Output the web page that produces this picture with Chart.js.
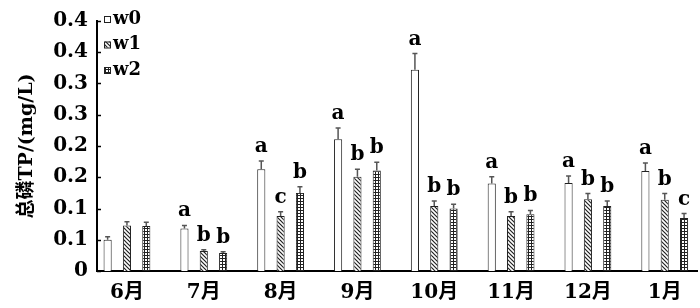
<!DOCTYPE html>
<html>
<head>
<meta charset="utf-8">
<script src="https://cdn.jsdelivr.net/npm/chart.js@4/dist/chart.umd.min.js"></script>
<style>
html,body{margin:0;padding:0;background:#fff;}
#wrap{width:700px;height:308px;position:relative;}
</style>
</head>
<body>
<div id="wrap"><canvas id="c" width="700" height="308"></canvas></div>
<script>
// ---- data ----
const categories = ['6月','7月','8月','9月','10月','11月','12月','1月'];
const seriesNames = ['w0','w1','w2'];
const w0 = [0.050, 0.068, 0.163, 0.211, 0.322, 0.140, 0.141, 0.160];
const w1 = [0.073, 0.032, 0.088, 0.151, 0.104, 0.088, 0.115, 0.114];
const w2 = [0.072, 0.029, 0.125, 0.161, 0.100, 0.091, 0.104, 0.085];
const w0Err = [0.005, 0.005, 0.013, 0.018, 0.026, 0.011, 0.011, 0.013];
const w1Err = [0.006, 0.002, 0.007, 0.012, 0.008, 0.007, 0.009, 0.010];
const w2Err = [0.006, 0.002, 0.010, 0.013, 0.007, 0.006, 0.008, 0.007];
const w0Sig = ['', 'a', 'a', 'a', 'a', 'a', 'a', 'a'];
const w1Sig = ['', 'b', 'c', 'b', 'b', 'b', 'b', 'b'];
const w2Sig = ['', 'b', 'b', 'b', 'b', 'b', 'b', 'c'];
const yTickLabels = ['0','0.1','0.1','0.2','0.2','0.3','0.3','0.4','0.4'];
const yTitle = '总磷TP/(mg/L)';

// ---- patterns ----
function makePattern(kind){
  const p = document.createElement('canvas');
  const ctx = p.getContext('2d');
  if(kind==='hatch'){
    p.width=4;p.height=4;
    ctx.fillStyle='#fff';ctx.fillRect(0,0,4,4);
    ctx.strokeStyle='#222';ctx.lineWidth=1.2;
    ctx.beginPath();ctx.moveTo(-1,-1);ctx.lineTo(5,5);ctx.stroke();
    ctx.beginPath();ctx.moveTo(-1,3);ctx.lineTo(1,5);ctx.stroke();
    ctx.beginPath();ctx.moveTo(3,-1);ctx.lineTo(5,1);ctx.stroke();
  } else if(kind==='grid'){
    p.width=3;p.height=3;
    ctx.fillStyle='#fff';ctx.fillRect(0,0,3,3);
    ctx.fillStyle='#222';
    ctx.fillRect(0,0,3,1);ctx.fillRect(0,0,1,3);
  } else {
    p.width=2;p.height=2;ctx.fillStyle='#fff';ctx.fillRect(0,0,2,2);
  }
  return document.getElementById('c').getContext('2d').createPattern(p,'repeat');
}
const fills = [makePattern('plain'), makePattern('hatch'), makePattern('grid')];
const values = [w0,w1,w2];
const errs = [w0Err,w1Err,w2Err];
const sigs = [w0Sig,w1Sig,w2Sig];

const FONT = "'DejaVu Serif', 'Noto Sans CJK SC', serif";

const datasets = values.map((arr, s) => ({
  label: seriesNames[s],
  data: arr.map((v, i) => ({x: i, y: v})),
  backgroundColor: fills[s],
  borderColor: '#222',
  borderWidth: 1,
  categoryPercentage: 0.755,
  barPercentage: 0.42
}));

const extras = {
  id: 'extras',
  afterDatasetsDraw(chart){
    const ctx = chart.ctx;
    const ys = chart.scales.y;
    ctx.save();
    chart.data.datasets.forEach((ds, s) => {
      const meta = chart.getDatasetMeta(s);
      meta.data.forEach((bar, i) => {
        const top = ys.getPixelForValue(values[s][i] + errs[s][i]);
        ctx.strokeStyle = '#555';
        ctx.lineWidth = 1.5;
        ctx.beginPath();
        ctx.moveTo(bar.x, bar.y);
        ctx.lineTo(bar.x, top);
        ctx.moveTo(bar.x - 2.5, top);
        ctx.lineTo(bar.x + 2.5, top);
        ctx.stroke();
        if (sigs[s][i]) {
          ctx.fillStyle = '#000';
          ctx.font = "bold 20px " + FONT;
          ctx.textAlign = 'center';
          ctx.textBaseline = 'alphabetic';
          ctx.fillText(sigs[s][i], bar.x, top - 9);
        }
      });
    });
    ctx.restore();
  },
  afterDraw(chart){
    const ctx = chart.ctx;
    const ys = chart.scales.y;
    const area = chart.chartArea;
    ctx.save();
    // inward y ticks
    ctx.strokeStyle = '#000';
    ctx.lineWidth = 1.5;
    ys.ticks.forEach((t) => {
      const py = Math.round(ys.getPixelForValue(t.value)) + 0.5;
      ctx.beginPath();
      ctx.moveTo(area.left, py);
      ctx.lineTo(area.left + 4, py);
      ctx.stroke();
    });
    // legend
    const lx = area.left + 7, ly = area.top - 2;
    chart.data.datasets.forEach((ds, s) => {
      const cy = ly + s * 25.5;
      ctx.fillStyle = ds.backgroundColor;
      ctx.fillRect(lx, cy - 3, 6, 6);
      ctx.strokeStyle = '#222';
      ctx.lineWidth = 1;
      ctx.strokeRect(lx + 0.5, cy - 2.5, 6, 6);
      ctx.fillStyle = '#000';
      ctx.font = "bold 18px " + FONT;
      ctx.textAlign = 'left';
      ctx.textBaseline = 'middle';
      ctx.fillText(ds.label, lx + 9, cy);
    });
    ctx.restore();
  }
};

new Chart(document.getElementById('c'), {
  type: 'bar',
  data: { datasets },
  options: {
    responsive: false,
    animation: false,
    devicePixelRatio: 1,
    layout: { padding: { top: 14, right: 3, left: 0, bottom: 0 } },
    plugins: { legend: { display: false }, tooltip: { enabled: false } },
    scales: {
      x: {
        type: 'linear',
        offset: false,
        min: -0.39,
        max: 7.42,
        afterBuildTicks: (scale) => { scale.ticks = categories.map((_, i) => ({ value: i })); },
        afterFit: (scale) => { scale.height = 37; },
        grid: { display: false, drawTicks: false, offset: false },
        border: { display: true, color: '#000', width: 2 },
        ticks: {
          autoSkip: false,
          maxRotation: 0,
          padding: 10,
          color: '#000',
          font: { family: FONT, size: 20, weight: 'bold' },
          callback: (v) => categories[v] !== undefined ? categories[v] : ''
        }
      },
      y: {
        min: 0,
        max: 0.4,
        afterFit: (scale) => { scale.width = 97; },
        afterBuildTicks: (scale) => { scale.ticks = yTickLabels.map((_, i) => ({ value: i * 0.05 })); },
        grid: { display: false, drawTicks: false },
        border: { display: true, color: '#000', width: 2 },
        ticks: {
          padding: 9,
          color: '#000',
          font: { family: FONT, size: 20, weight: 'bold' },
          callback: (v, i) => yTickLabels[i]
        },
        title: {
          display: true,
          text: yTitle,
          align: 'center',
          color: '#000',
          font: { family: FONT, size: 19, weight: 'bold' },
          padding: { top: 16, bottom: 0 }
        }
      }
    }
  },
  plugins: [extras]
});
</script>
</body>
</html>
